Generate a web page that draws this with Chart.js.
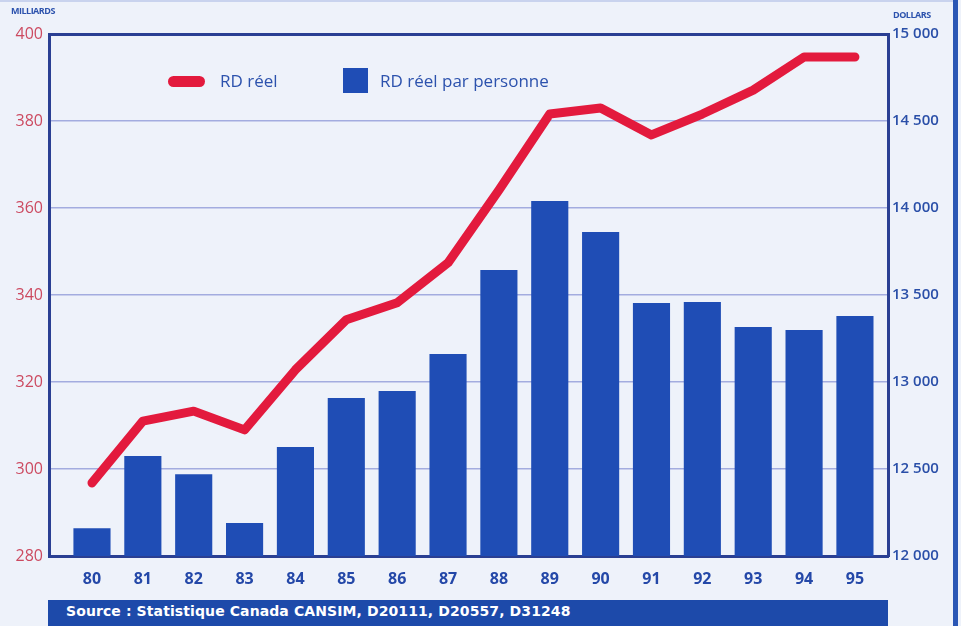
<!DOCTYPE html>
<html><head><meta charset="utf-8">
<script src="https://cdn.jsdelivr.net/npm/chart.js@4/dist/chart.umd.min.js"></script>
<style>
html,body{margin:0;padding:0;background:#eef2fa;}
#wrap{position:relative;width:961px;height:626px;overflow:hidden;background:#eef2fa;}
canvas{position:absolute;left:0;top:0;}
.t{position:absolute;font-family:"Open Sans",Lato,sans-serif;color:#2c52ad;white-space:nowrap;}
#mil{left:11px;top:4px;font-size:9px;font-weight:700;letter-spacing:-0.5px;}
#dol{left:893px;top:8px;font-size:9px;font-weight:700;letter-spacing:-0.5px;}
#lg1{left:168px;top:76px;width:37px;height:11px;border-radius:6px;background:#e31a3d;position:absolute;}
#lg1t{left:220px;top:69px;font-size:17px;}
#lg2{left:343px;top:68px;width:25px;height:25px;background:#1f4db5;position:absolute;}
#lg2t{left:380px;top:69px;font-size:17px;}
#src{position:absolute;left:48px;top:600px;width:840px;height:30px;background:#1d4aaa;}
#srct{left:66px;top:603px;font-size:14px;font-weight:700;color:#fff;font-family:"DejaVu Sans",sans-serif;letter-spacing:0.1px;}
#edge{position:absolute;left:953px;top:0;width:5px;height:626px;background:#2b57b5;}
#topl{position:absolute;left:0;top:0;width:953px;height:2px;background:#c9d3ee;}
</style></head>
<body><div id="wrap">
<canvas id="c" width="961" height="626"></canvas>
<div id="topl"></div>
<div id="edge"></div>
<div class="t" id="mil">MILLIARDS</div>
<div class="t" id="dol">DOLLARS</div>
<div id="lg1"></div><div class="t" id="lg1t">RD réel</div>
<div id="lg2"></div><div class="t" id="lg2t">RD réel par personne</div>
<div id="src"></div><div class="t" id="srct">Source : Statistique Canada CANSIM, D20111, D20557, D31248</div>
</div>
<script>
const categories = ["80","81","82","83","84","85","86","87","88","89","90","91","92","93","94","95"];
const rdReel = [296.8,311.0,313.3,309.0,322.8,334.3,338.2,347.4,364.1,381.6,383.0,376.8,381.6,387.1,394.7,394.7];
const rdParPersonne = [12160,12575,12470,12190,12626,12908,12948,13161,13644,14040,13862,13454,13460,13316,13299,13379];
const leftTicks = [280,300,320,340,360,380,400];
const rightTicks = [12000,12500,13000,13500,14000,14500,15000];

const frame = '#2a3f93';
const fmt = v => String(v).replace(/\B(?=(\d{3})+(?!\d))/g, ' ');

new Chart(document.getElementById('c'), {
  data: {
    datasets: [
      { type:'line', label:'RD réel', yAxisID:'y', order:0,
        data: categories.map((c,i)=>({x:i,y:rdReel[i]})),
        borderColor:'#e31a3d', borderWidth:9, borderCapStyle:'round', borderJoinStyle:'round',
        pointRadius:0, tension:0 },
      { type:'bar', label:'RD réel par personne', yAxisID:'y2', order:1,
        data: categories.map((c,i)=>({x:i,y:rdParPersonne[i]})),
        backgroundColor:'#1f4db5', borderWidth:0, barPercentage:0.73, categoryPercentage:1 }
    ]
  },
  options: {
    responsive:false, animation:false,
    layout:{padding:{top:34,left:0,right:0,bottom:0}},
    plugins:{legend:{display:false}, tooltip:{enabled:false}},
    scales:{
      x:{ type:'linear', min:-0.845, max:15.65, offset:false,
        afterFit:s=>{s.height=70;},
        ticks:{ stepSize:1, includeBounds:false, autoSkip:false, maxRotation:0, padding:14,
          color:'#2448a8', font:{family:'"Open Sans", Lato, sans-serif', size:16, weight:'bold'},
          callback:v=> Number.isInteger(v) && categories[v] ? categories[v] : '' },
        grid:{display:false, drawTicks:false, offset:false},
        border:{display:true, color:frame, width:3}
      },
      y:{ position:'left', min:280, max:400,
        afterFit:s=>{s.width=49;},
        afterBuildTicks:s=>{s.ticks=leftTicks.map(v=>({value:v}));},
        ticks:{ padding:6, color:'#cc4a60', font:{family:'"Open Sans", sans-serif', size:16} },
        grid:{ drawTicks:false,
          color:c=> (c.tick && (c.tick.value===400||c.tick.value===280)) ? frame : '#a3acdf',
          lineWidth:c=> (c.tick && (c.tick.value===400||c.tick.value===280)) ? 3 : 1.5 },
        border:{display:true, color:frame, width:3}
      },
      y2:{ position:'right', min:12000, max:15000,
        afterFit:s=>{s.width=73;},
        afterBuildTicks:s=>{s.ticks=rightTicks.map(v=>({value:v}));},
        ticks:{ padding:4, color:'#2a4fa8', font:{family:'"Open Sans", sans-serif', size:15, weight:'600'}, callback:v=>fmt(v) },
        grid:{ display:false, drawTicks:false },
        border:{display:true, color:frame, width:3}
      }
    }
  }
});
</script>
</body></html>
